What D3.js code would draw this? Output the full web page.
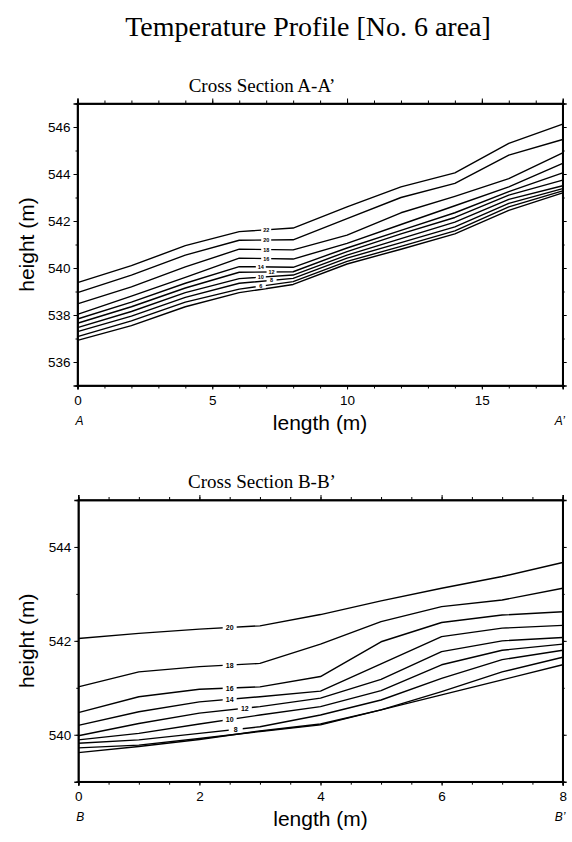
<!DOCTYPE html>
<html>
<head>
<meta charset="utf-8">
<script src="https://cdn.jsdelivr.net/npm/d3@7"></script>
<style>
  body { margin: 0; background: #fff; }
  svg { display: block; }
</style>
</head>
<body>
<div id="chart"></div>
<script>
// ---- cross section A-A' ----
var aaX = [0, 2, 4, 6, 8, 10, 12, 14, 16, 18];
var aaLevels = [22, 20, 18, 16, 14, 12, 10, 8, 6, 4];
var aaHeights = [
  [539.38, 540.10, 540.95, 541.55, 541.70, 542.60, 543.45, 544.05, 545.30, 546.12],
  [538.95, 539.70, 540.55, 541.18, 541.20, 542.10, 543.00, 543.60, 544.80, 545.47],
  [538.47, 539.20, 540.05, 540.80, 540.77, 541.40, 542.35, 543.05, 543.80, 544.90],
  [538.03, 538.80, 539.60, 540.42, 540.38, 541.05, 541.85, 542.65, 543.45, 544.45],
  [537.83, 538.55, 539.35, 540.06, 540.03, 540.85, 541.60, 542.35, 543.25, 544.05],
  [537.65, 538.35, 539.15, 539.82, 539.84, 540.70, 541.45, 542.15, 543.10, 543.74],
  [537.46, 538.15, 538.95, 539.55, 539.70, 540.55, 541.25, 541.95, 542.92, 543.50],
  [537.29, 537.95, 538.75, 539.35, 539.56, 540.42, 541.08, 541.75, 542.75, 543.38],
  [537.08, 537.75, 538.55, 539.10, 539.42, 540.28, 540.92, 541.58, 542.60, 543.28],
  [536.92, 537.55, 538.35, 538.95, 539.30, 540.17, 540.80, 541.45, 542.45, 543.20]
];
// labels stack around x = 7; the crowded lower ones alternate a little
var aaLabelX = [7, 7, 7, 7, 6.8, 7.2, 6.8, 7.2, 6.8, null];
var aaXTicks = [0, 5, 10, 15];
var aaYTicks = [536, 538, 540, 542, 544, 546];

// ---- cross section B-B' ----
var bbX = [0, 1, 2, 3, 4, 5, 6, 7, 8];
var bbLevels = [20, 18, 16, 14, 12, 10, 8, 6, 4];
var bbHeights = [
  [542.05, 542.16, 542.25, 542.32, 542.56, 542.85, 543.12, 543.37, 543.67],
  [541.02, 541.34, 541.45, 541.52, 541.93, 542.41, 542.73, 542.87, 543.12],
  [540.47, 540.81, 540.97, 541.02, 541.24, 541.98, 542.39, 542.55, 542.62],
  [540.20, 540.49, 540.70, 540.81, 540.93, 541.51, 542.09, 542.27, 542.33],
  [539.98, 540.24, 540.46, 540.60, 540.78, 541.18, 541.77, 542.00, 542.07],
  [539.89, 540.03, 540.23, 540.42, 540.60, 540.94, 541.49, 541.80, 541.93],
  [539.82, 539.89, 540.03, 540.17, 540.42, 540.74, 541.20, 541.60, 541.80],
  [539.72, 539.78, 539.92, 540.07, 540.21, 540.53, 540.92, 541.34, 541.65],
  [539.62, 539.75, 539.90, 540.08, 540.23, 540.53, 540.85, 541.17, 541.49]
];
var bbLabelX = [2.5, 2.5, 2.5, 2.5, 2.75, 2.5, 2.6, null, null];
var bbXTicks = [0, 2, 4, 6, 8];
var bbYTicks = [540, 542, 544];

var W = 572, H = 842;
var svg = d3.select("#chart").append("svg")
  .attr("width", W).attr("height", H)
  .style("background", "#fff");

var sans = "'Liberation Sans', Arial, Helvetica, sans-serif";
var serif = "'Liberation Serif', 'Times New Roman', serif";

svg.append("text")
  .attr("x", 308).attr("y", 36)
  .attr("text-anchor", "middle")
  .style("font-family", serif).style("font-size", "28px")
  .text("Temperature Profile [No. 6 area]");

function interp(xs, ys, x) {
  for (var i = 0; i < xs.length - 1; i++) {
    if (x >= xs[i] && x <= xs[i + 1]) {
      var t = (x - xs[i]) / (xs[i + 1] - xs[i]);
      return ys[i] + t * (ys[i + 1] - ys[i]);
    }
  }
  return ys[ys.length - 1];
}

function drawPanel(cfg) {
  var x = d3.scaleLinear().domain(cfg.xDomain).range([cfg.left, cfg.right]);
  var y = d3.scaleLinear().domain(cfg.yDomain).range([cfg.bottom, cfg.top]);
  var g = svg.append("g");

  // subtitle
  g.append("text")
    .attr("x", cfg.titleX).attr("y", cfg.top - 12)
    .attr("text-anchor", "middle")
    .style("font-family", serif).style("font-size", "19px")
    .text(cfg.title);

  // contour lines
  var line = d3.line()
    .x(function(d) { return x(d[0]); })
    .y(function(d) { return y(d[1]); });
  cfg.heights.forEach(function(hs) {
    g.append("path")
      .datum(cfg.xs.map(function(v, i) { return [v, hs[i]]; }))
      .attr("d", line)
      .attr("fill", "none")
      .attr("stroke", "#000")
      .attr("stroke-width", 1.4)
      .attr("stroke-linejoin", "round");
  });

  // contour labels (white gap under each)
  cfg.heights.forEach(function(hs, i) {
    var lx = cfg.labelX[i];
    if (lx == null) return;
    var px = x(lx), py = y(interp(cfg.xs, hs, lx));
    var fs = cfg.labelSize;
    g.append("rect")
      .attr("x", px - cfg.gap / 2).attr("y", py - fs * 0.4)
      .attr("width", cfg.gap).attr("height", fs * 0.8)
      .attr("fill", "#fff");
    g.append("text")
      .attr("x", px).attr("y", py + fs * 0.36)
      .attr("text-anchor", "middle")
      .style("font-family", sans).style("font-size", fs + "px")
      .style("font-weight", "bold")
      .text(cfg.levels[i]);
  });

  // axes
  var xMinor = d3.range(cfg.xDomain[0], cfg.xDomain[1] + 0.001, cfg.xMinorStep);
  var yMinor = d3.range(cfg.yDomain[0], cfg.yDomain[1] + 0.001, 1);

  g.append("g").attr("transform", "translate(0," + cfg.bottom + ")")
    .call(d3.axisBottom(x).tickValues(cfg.xTicks).tickSize(4).tickPadding(6).tickFormat(d3.format("d")));
  g.append("g").attr("transform", "translate(0," + cfg.bottom + ")")
    .call(d3.axisBottom(x).tickValues(xMinor).tickSize(3).tickFormat(""));
  g.append("g").attr("transform", "translate(0," + cfg.top + ")")
    .call(d3.axisTop(x).tickValues(cfg.xTicks).tickSize(5).tickFormat(""));
  g.append("g").attr("transform", "translate(0," + cfg.top + ")")
    .call(d3.axisTop(x).tickValues(xMinor).tickSize(3).tickFormat(""));

  g.append("g").attr("transform", "translate(" + cfg.left + ",0)")
    .call(d3.axisLeft(y).tickValues(cfg.yTicks).tickSize(4).tickPadding(3).tickFormat(d3.format("d")));
  g.append("g").attr("transform", "translate(" + cfg.left + ",0)")
    .call(d3.axisLeft(y).tickValues(yMinor).tickSize(2).tickFormat(""));
  g.append("g").attr("transform", "translate(" + cfg.right + ",0)")
    .call(d3.axisRight(y).tickValues(cfg.yTicks).tickSize(4).tickFormat(""));
  g.append("g").attr("transform", "translate(" + cfg.right + ",0)")
    .call(d3.axisRight(y).tickValues(yMinor).tickSize(2).tickFormat(""));

  g.selectAll(".domain").attr("stroke", "#000").attr("stroke-width", 1.5);
  g.selectAll(".tick line").attr("stroke", "#000").attr("stroke-width", 1);
  g.selectAll(".tick text")
    .style("font-family", sans).style("font-size", "13.5px").attr("fill", "#000");

  // frame
  g.append("rect")
    .attr("x", cfg.left).attr("y", cfg.top)
    .attr("width", cfg.right - cfg.left).attr("height", cfg.bottom - cfg.top)
    .attr("fill", "none").attr("stroke", "#000").attr("stroke-width", 1.5);

  // end letters
  g.append("text")
    .attr("x", cfg.left - 2).attr("y", cfg.bottom + 39)
    .style("font-family", sans).style("font-size", "12px").style("font-style", "italic")
    .text(cfg.ends[0]);
  g.append("text")
    .attr("x", cfg.right - 8).attr("y", cfg.bottom + 39)
    .style("font-family", sans).style("font-size", "12px").style("font-style", "italic")
    .text(cfg.ends[1]);

  // axis titles
  g.append("text")
    .attr("x", (cfg.left + cfg.right) / 2).attr("y", cfg.bottom + 44)
    .attr("text-anchor", "middle")
    .style("font-family", sans).style("font-size", "21px")
    .text("length (m)");
  g.append("text")
    .attr("transform", "translate(" + 34 + "," + ((cfg.top + cfg.bottom) / 2) + ") rotate(-90)")
    .attr("text-anchor", "middle")
    .style("font-family", sans).style("font-size", "21px")
    .text("height (m)");
}

drawPanel({
  title: "Cross Section A-A\u2019", titleX: 262,
  left: 77.5, right: 562.7, top: 103.5, bottom: 385.5,
  xDomain: [0, 18], yDomain: [535, 547], xMinorStep: 1,
  xs: aaX, heights: aaHeights, levels: aaLevels, labelX: aaLabelX,
  gap: 10, labelSize: 5.5,
  xTicks: aaXTicks, yTicks: aaYTicks, ends: ["A", "A\u2019"]
});

drawPanel({
  title: "Cross Section B-B\u2019", titleX: 262,
  left: 78.3, right: 562.7, top: 500, bottom: 781.7,
  xDomain: [0, 8], yDomain: [539, 545], xMinorStep: 0.5,
  xs: bbX, heights: bbHeights, levels: bbLevels, labelX: bbLabelX,
  gap: 14, labelSize: 7,
  xTicks: bbXTicks, yTicks: bbYTicks, ends: ["B", "B\u2019"]
});
</script>
</body>
</html>
